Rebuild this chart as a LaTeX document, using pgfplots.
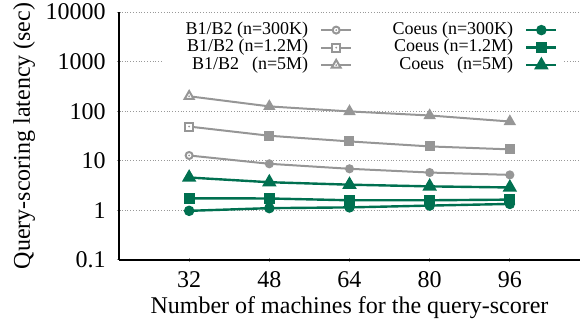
\documentclass[border=0pt]{standalone}
\usepackage{pgfplots}
\pgfplotsset{compat=1.18}
\usepackage{fontspec}
\setmainfont{Liberation Serif}
\definecolor{bgray}{RGB}{150,150,150}
\definecolor{cgreen}{RGB}{0,112,80}

\pgfdeclareplotmark{odot}{%
  \pgfpathcircle{\pgfpointorigin}{\pgfplotmarksize}\pgfusepathqfillstroke
  \pgfsetfillcolor{bgray}\pgfpathcircle{\pgfpointorigin}{0.5pt}\pgfusepathqfill}
\pgfdeclareplotmark{sdot}{%
  \pgfpathrectanglecorners{\pgfqpoint{-\pgfplotmarksize}{-\pgfplotmarksize}}{\pgfqpoint{\pgfplotmarksize}{\pgfplotmarksize}}\pgfusepathqfillstroke
  \pgfsetfillcolor{bgray}\pgfpathcircle{\pgfpointorigin}{0.5pt}\pgfusepathqfill}
\pgfdeclareplotmark{tdot}{%
  \pgfpathmoveto{\pgfqpoint{0pt}{\pgfplotmarksize}}%
  \pgfpathlineto{\pgfpointpolar{210}{\pgfplotmarksize}}%
  \pgfpathlineto{\pgfpointpolar{330}{\pgfplotmarksize}}%
  \pgfpathclose\pgfusepathqfillstroke
  \pgfsetfillcolor{bgray}\pgfpathcircle{\pgfpointorigin}{0.5pt}\pgfusepathqfill}

\begin{document}
\begin{tikzpicture}
\begin{axis}[
  name=ax,
  scale only axis, width=230.5pt, height=124pt,
  ymode=log, log basis y=10,
  xmin=18, xmax=110, ymin=0.1, ymax=10000,
  axis x line=bottom, axis y line=left,
  axis line style={line width=1.25pt, -},
  /pgf/number format/assume math mode=true,
  xtick={32,48,64,80,96}, xticklabels={32,48,64,80,96},
  ytick={0.1,1,10,100,1000,10000}, yticklabels={0.1,1,10,100,1000,10000},
  yminorticks=false,
  ymajorgrids, major grid style={densely dotted, color=gray!80, line width=0.5pt},
  tick style={bgray, line width=0.5pt}, major tick length=2pt,
  ticklabel style={font=\fontsize{12}{14}\selectfont},
  label style={font=\fontsize{12}{14}\selectfont},
  xticklabel style={anchor=base, yshift=-13pt},
  yticklabel style={anchor=east, inner sep=0pt, xshift=-5.5pt},
  xlabel={Number of machines for the query-scorer},
  ylabel={Query-scoring latency (sec)},
  xlabel style={at={(axis description cs:0.5,0)}, anchor=base, yshift=-26.5pt},
  ylabel style={at={(axis description cs:0,0.5)}, anchor=base, yshift=44.5pt},
  clip=false,
  legend columns=2, legend plot pos=right, legend cell align=right,
  legend style={at={(axis description cs:0.9631,0.972)}, anchor=north east,
    draw=none, fill=white, inner xsep=2.5pt, inner ysep=1pt,
    column sep=6pt, row sep=0pt, font=\fontsize{9}{10}\selectfont,
    nodes={inner sep=0pt, text height=6.5pt, text depth=2.25pt}},
  legend image code/.code={\draw[mark repeat=2,mark phase=2,#1] plot coordinates {(0pt,0pt) (7.5pt,0pt) (15pt,0pt)};},
]
\addplot[bgray, line width=1pt, mark=odot, mark size=1.75pt, mark options={fill=white, solid}]
  coordinates {(32,12.8) (48,8.7) (64,6.9) (80,5.8) (96,5.2)};
\addlegendentry{\makebox[70pt][r]{B1/B2 (n=300K)}}
\addplot[cgreen, line width=1.2pt, mark=*, mark size=2pt, mark options={fill=cgreen, solid}]
  coordinates {(32,0.98) (48,1.11) (64,1.15) (80,1.25) (96,1.35)};
\addlegendentry{\makebox[74.5pt][r]{Coeus (n=300K)}}
\addplot[bgray, line width=1pt, mark=sdot, mark size=2pt, mark options={fill=white, solid}]
  coordinates {(32,49) (48,32) (64,24.6) (80,19.5) (96,17)};
\addlegendentry{\makebox[70pt][r]{B1/B2 (n=1.2M)}}
\addplot[cgreen, line width=1.2pt, mark=square*, mark size=2.2pt, mark options={fill=cgreen, solid}]
  coordinates {(32,1.75) (48,1.74) (64,1.6) (80,1.6) (96,1.65)};
\addlegendentry{\makebox[74.5pt][r]{Coeus (n=1.2M)}}
\addplot[bgray, line width=1pt, mark=tdot, mark size=2.6pt, mark options={fill=white, solid}]
  coordinates {(32,200) (48,125) (64,99) (80,82) (96,62)};
\addlegendentry{\makebox[70pt][r]{B1/B2\hspace{0.72em}(n=5M)}}
\addplot[cgreen, line width=1.2pt, mark=triangle*, mark size=3pt, mark options={fill=cgreen, solid}]
  coordinates {(32,4.6) (48,3.7) (64,3.3) (80,3.05) (96,2.9)};
\addlegendentry{\makebox[74.5pt][r]{Coeus\hspace{0.71em}(n=5M)}}
\end{axis}
\pgfresetboundingbox
\path[use as bounding box] ([xshift=-59.5pt,yshift=-30pt]ax.south west) rectangle ([xshift=231.5pt,yshift=130pt]ax.south west);
\end{tikzpicture}
\end{document}
